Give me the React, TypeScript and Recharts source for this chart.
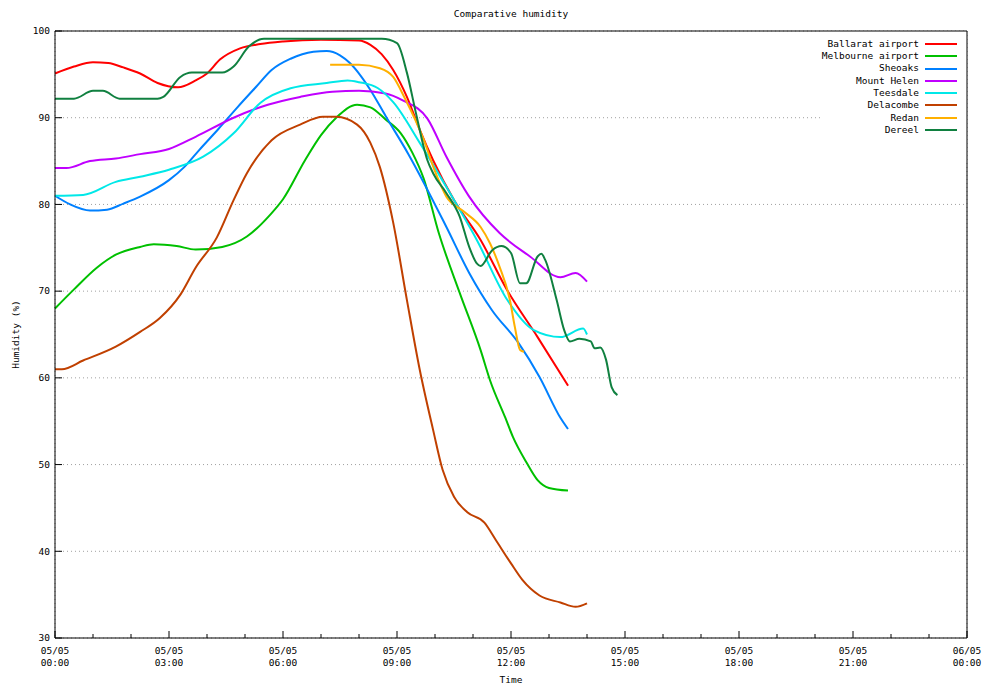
import {
  LineChart,
  Line,
  XAxis,
  YAxis,
  CartesianGrid,
  Legend,
  ReferenceArea,
  Label,
} from "recharts";

const FONT = "'DejaVu Sans Mono', monospace";
const FONT_SIZE = 9.5;

// hours since 05/05 00:00
const hourTicks = Array.from({ length: 25 }, (_, i) => i);
const gridHours = [0, 3, 6, 9, 12, 15, 18, 21, 24];
const humidityTicks = [30, 40, 50, 60, 70, 80, 90, 100];

const ballarat = [
  [0, 95.1], [0.5, 95.9], [1.0, 96.4], [1.4, 96.3], [1.8, 95.8], [2.24, 95.1],
  [2.7, 94.0], [3.24, 93.5], [3.7, 94.3], [4.0, 95.1], [4.34, 96.7], [4.87, 98.0],
  [5.4, 98.5], [6.0, 98.8], [7.0, 99.0], [8.0, 98.9], [8.3, 98.4], [8.6, 97.3],
  [8.9, 95.5], [9.26, 92.4], [9.6, 88.6], [9.95, 85.1], [10.5, 80.5], [11.2, 75.9],
  [11.9, 70.1], [12.7, 64.7], [13.5, 59.1],
];

const melbourne = [
  [0, 68], [0.5, 70.2], [1.1, 72.7], [1.6, 74.2], [2.24, 75.1], [2.6, 75.4],
  [3.2, 75.2], [3.7, 74.8], [4.4, 75.1], [5.05, 76.3], [5.66, 78.8], [6.0, 80.6],
  [6.58, 85.1], [7.0, 88.0], [7.4, 90.0], [7.95, 91.5], [8.3, 91.2], [8.7, 89.8],
  [9.1, 88.2], [9.4, 86.0], [9.7, 83.0], [10.1, 76.7], [10.65, 69.8], [11.2, 63.2],
  [11.45, 59.7], [11.85, 55.4], [12.05, 53.2], [12.4, 50.3], [12.7, 48.2],
  [13.0, 47.3], [13.5, 47.0],
];

const sheoaks = [
  [0, 81], [0.4, 80.0], [0.92, 79.3], [1.37, 79.4], [1.8, 80.1], [2.24, 80.9],
  [3.0, 82.8], [3.4, 84.3], [3.8, 86.3], [4.3, 88.7], [4.8, 91.2], [5.3, 93.6],
  [5.7, 95.5], [6.2, 96.8], [6.8, 97.6], [7.15, 97.7], [7.5, 97.2], [7.76, 96.3],
  [8.05, 94.8], [8.3, 93.2], [8.7, 90.2], [9.3, 85.8], [10.3, 77.4], [10.9, 72.1],
  [11.5, 67.8], [12.2, 64.0], [12.75, 60.1], [13.3, 55.4], [13.5, 54.1],
];

const mountHelen = [
  [0, 84.2], [0.3, 84.2], [0.92, 85.0], [1.6, 85.3], [2.24, 85.8], [3.0, 86.4],
  [3.7, 87.8], [4.7, 90.0], [5.6, 91.5], [6.45, 92.4], [7.3, 93.0], [8.0, 93.1],
  [8.7, 92.8], [9.15, 92.0], [9.8, 89.9], [10.3, 85.5], [10.9, 80.9], [11.7, 76.7],
  [12.5, 74.0], [13.3, 71.6], [13.7, 72.1], [14.0, 71.1],
];

const teesdale = [
  [0, 81], [0.74, 81.1], [1.6, 82.6], [2.24, 83.2], [3.0, 84.0], [3.9, 85.5],
  [4.7, 88.2], [5.4, 91.7], [6.2, 93.4], [7.15, 94.0], [7.7, 94.3], [8.0, 94.1],
  [8.5, 93.4], [8.9, 91.8], [9.6, 87.1], [10.3, 82.0], [11.1, 75.9], [11.9, 69.0],
  [12.6, 65.5], [13.3, 64.7], [13.9, 65.7], [14.0, 65.0],
];

const delacombe = [
  [0, 61], [0.18, 61], [0.74, 62], [1.6, 63.6], [2.24, 65.3], [2.76, 66.9],
  [3.3, 69.6], [3.7, 72.7], [4.26, 76.2], [4.7, 80.5], [5.05, 83.6], [5.7, 87.4],
  [6.45, 89.2], [7.05, 90.1], [7.4, 90.1], [7.95, 89.2], [8.3, 87.1], [8.55, 84.3],
  [8.9, 77.9], [9.26, 69.0], [9.6, 60.9], [9.95, 54.0], [10.2, 49.4], [10.5, 46.3],
  [10.85, 44.5], [11.3, 43.3], [11.6, 41.3], [12.0, 38.6], [12.3, 36.7],
  [12.75, 34.9], [13.3, 34.1], [13.7, 33.6], [14.0, 34.0],
];

const redan = [
  [7.24, 96.1], [8.0, 96.1], [8.55, 95.7], [8.9, 94.7], [9.2, 92.3], [9.7, 87.5],
  [10.0, 83.8], [10.3, 80.9], [10.75, 79.2], [11.2, 77.4], [11.45, 75.5],
  [11.7, 72.8], [11.97, 69.0], [12.1, 65.9], [12.24, 63.2], [12.34, 63.0],
];

const dereel = [
  [0, 92.2], [0.5, 92.2], [1.0, 93.1], [1.26, 93.1], [1.7, 92.2], [2.7, 92.2],
  [2.85, 92.4], [3.3, 94.7], [3.6, 95.2], [4.4, 95.2], [4.7, 95.9], [5.1, 98.2],
  [5.5, 99.1], [8.6, 99.1], [9.0, 98.6], [9.26, 95.2], [9.5, 90.5], [9.8, 85.1],
  [9.95, 83.6], [10.3, 81.3], [10.65, 78.6], [10.9, 75.1], [11.1, 73.2], [11.2, 72.9],
  [11.5, 74.7], [11.75, 75.2], [12.0, 74.4], [12.24, 70.9], [12.4, 70.9],
  [12.7, 74.0], [12.8, 74.3], [12.9, 73.6], [13.2, 69.0], [13.4, 65.5],
  [13.55, 64.2], [13.8, 64.5], [14.1, 64.2], [14.2, 63.4], [14.35, 63.5],
  [14.5, 62.1], [14.65, 58.9], [14.8, 58.0],
];

const series = [
  { name: "Ballarat airport", color: "#ff0000", points: ballarat },
  { name: "Melbourne airport", color: "#00c000", points: melbourne },
  { name: "Sheoaks", color: "#0080ff", points: sheoaks },
  { name: "Mount Helen", color: "#c000ff", points: mountHelen },
  { name: "Teesdale", color: "#00e8e8", points: teesdale },
  { name: "Delacombe", color: "#c04000", points: delacombe },
  { name: "Redan", color: "#ffb000", points: redan },
  { name: "Dereel", color: "#108040", points: dereel },
].map((s) => ({ ...s, data: s.points.map(([t, v]) => ({ t, v })) }));

const hourLabel = (h: number) => {
  const day = h >= 24 ? "06/05" : "05/05";
  const hh = String(h % 24).padStart(2, "0");
  return [day, `${hh}:00`];
};

const textProps = { fontFamily: FONT, fontSize: FONT_SIZE, fill: "#000" };

const BottomTick = ({ x, y, payload }: any) => {
  const h = payload.value;
  const major = h % 3 === 0;
  const [day, time] = hourLabel(h);
  return (
    <g>
      <line x1={x} x2={x} y1={y} y2={y - (major ? 7 : 4)} stroke="#000" />
      {major && (
        <text x={x} y={y} textAnchor="middle" {...textProps}>
          <tspan x={x} dy={15.5}>{day}</tspan>
          <tspan x={x} dy={12}>{time}</tspan>
        </text>
      )}
    </g>
  );
};

const TopTick = ({ x, y, payload }: any) => {
  const major = payload.value % 3 === 0;
  return <line x1={x} x2={x} y1={y} y2={y + (major ? 7 : 4)} stroke="#000" />;
};

const LeftTick = ({ x, y, payload }: any) => (
  <g>
    <line x1={x} x2={x + 7} y1={y} y2={y} stroke="#000" />
    <text x={x - 5} y={y} dy={3.3} textAnchor="end" {...textProps}>
      {payload.value}
    </text>
  </g>
);

const RightTick = ({ x, y }: any) => (
  <line x1={x} x2={x - 7} y1={y} y2={y} stroke="#000" />
);

const renderLegend = () => (
  <div style={{ display: "flex", flexDirection: "column" }}>
    {series.map((s) => (
      <div
        key={s.name}
        style={{
          height: 12.3,
          display: "flex",
          alignItems: "center",
          justifyContent: "flex-end",
        }}
      >
        <span
          style={{
            fontFamily: FONT,
            fontSize: FONT_SIZE,
            color: "#000",
            whiteSpace: "pre",
            lineHeight: "12.3px",
          }}
        >
          {s.name}
        </span>
        <span
          style={{
            display: "inline-block",
            width: 32,
            height: 2,
            marginLeft: 6,
            background: s.color,
          }}
        />
      </div>
    ))}
  </div>
);

export default function App() {
  return (
    <div style={{ position: "absolute", left: 0, top: 0, background: "#fff" }}>
      <LineChart
        width={985}
        height={684}
        margin={{ top: 0, right: 0, bottom: 0, left: 0 }}
      >
        <XAxis
          xAxisId="grid"
          dataKey="t"
          type="number"
          domain={[0, 24]}
          ticks={gridHours}
          hide
        />
        <CartesianGrid
          xAxisId="grid"
          yAxisId="left"
          stroke="#a0a0a0"
          strokeDasharray="1 3"
        />
        <ReferenceArea
          xAxisId="bottom"
          yAxisId="left"
          x1={20.2}
          x2={24}
          y1={85.1}
          y2={100}
          fill="#fff"
          fillOpacity={1}
          stroke="none"
        />
        <XAxis
          xAxisId="bottom"
          orientation="bottom"
          dataKey="t"
          type="number"
          domain={[0, 24]}
          ticks={hourTicks}
          interval={0}
          height={46}
          tickSize={0}
          tickMargin={0}
          tickLine={false}
          axisLine={{ stroke: "#000" }}
          tick={<BottomTick />}
        >
          <Label value="Time" position="center" dy={18.5} {...textProps} />
        </XAxis>
        <XAxis
          xAxisId="top"
          orientation="top"
          dataKey="t"
          type="number"
          domain={[0, 24]}
          ticks={hourTicks}
          interval={0}
          height={31}
          tickSize={0}
          tickMargin={0}
          tickLine={false}
          axisLine={{ stroke: "#000" }}
          tick={<TopTick />}
        >
          <Label
            value="Comparative humidity"
            position="center"
            dy={-1.5}
            {...textProps}
          />
        </XAxis>
        <YAxis
          yAxisId="left"
          orientation="left"
          type="number"
          domain={[30, 100]}
          ticks={humidityTicks}
          interval={0}
          width={55}
          tickSize={0}
          tickMargin={0}
          tickLine={false}
          axisLine={{ stroke: "#000" }}
          tick={<LeftTick />}
        >
          <Label
            value="Humidity (%)"
            angle={-90}
            position="center"
            dx={-11.5}
            {...textProps}
          />
        </YAxis>
        <YAxis
          yAxisId="right"
          orientation="right"
          type="number"
          domain={[30, 100]}
          ticks={humidityTicks}
          interval={0}
          width={18}
          tickSize={0}
          tickMargin={0}
          tickLine={false}
          axisLine={{ stroke: "#000" }}
          tick={<RightTick />}
        />
        {series.map((s) => (
          <Line
            key={s.name}
            xAxisId="bottom"
            yAxisId="left"
            data={s.data}
            dataKey="v"
            name={s.name}
            type="monotone"
            stroke={s.color}
            strokeWidth={2}
            dot={false}
            activeDot={false}
            isAnimationActive={false}
          />
        ))}
        <Legend
          layout="vertical"
          align="center"
          verticalAlign="middle"
          content={renderLegend}
          wrapperStyle={{ left: 720, top: 37.85, width: 237 }}
        />
      </LineChart>
    </div>
  );
}
